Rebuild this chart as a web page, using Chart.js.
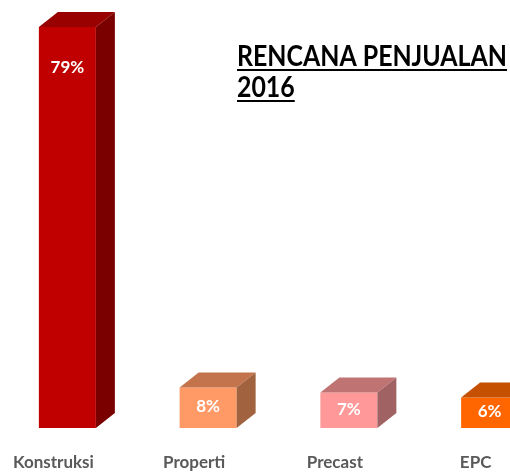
<!DOCTYPE html>
<html>
<head>
<meta charset="utf-8">
<script src="https://cdn.jsdelivr.net/npm/chart.js@4/dist/chart.umd.min.js"></script>
<style>
  html, body { margin: 0; padding: 0; background: #fff; overflow: hidden; }
  #wrap { position: absolute; left: -3px; top: 0; width: 563px; height: 472px; }
</style>
</head>
<body>
<div id="wrap"><canvas id="salesChart" width="563" height="472"></canvas></div>
<script>
// data
const categories = ["Konstruksi", "Properti", "Precast", "EPC"];
const shares = [79, 8, 7, 6];
const frontColors = ["#C00000", "#FF9966", "#FF9999", "#FF6600"];
const topColors = ["#990000", "#C3744D", "#C07373", "#C45000"];
const sideColors = ["#7A0000", "#A1623F", "#A06262", "#A04000"];
const titleLines = ["RENCANA PENJUALAN", "2016"];

// depth of the fake 3d box
const depthX = 19;
const depthY = 15;

const boxPlugin = {
  id: "box3d",
  afterDatasetsDraw(chart) {
    const ctx = chart.ctx;
    const meta = chart.getDatasetMeta(0);
    meta.data.forEach((bar, i) => {
      const half = bar.width / 2;
      const left = bar.x - half;
      const right = bar.x + half;
      const top = bar.y;
      const base = bar.base;
      ctx.save();
      // top face
      ctx.fillStyle = topColors[i];
      ctx.beginPath();
      ctx.moveTo(left, top);
      ctx.lineTo(right, top);
      ctx.lineTo(right + depthX, top - depthY);
      ctx.lineTo(left + depthX, top - depthY);
      ctx.closePath();
      ctx.fill();
      // side face
      ctx.fillStyle = sideColors[i];
      ctx.beginPath();
      ctx.moveTo(right, top);
      ctx.lineTo(right + depthX, top - depthY);
      ctx.lineTo(right + depthX, base - depthY);
      ctx.lineTo(right, base);
      ctx.closePath();
      ctx.fill();
      // value label
      const h = base - top;
      ctx.fillStyle = "#ffffff";
      ctx.font = 'bold 17px Lato';
      ctx.textAlign = "center";
      ctx.textBaseline = "middle";
      ctx.fillText(shares[i] + "%", bar.x, top + Math.min(40, h / 2 - 1));
      ctx.restore();
    });
  },
  afterDraw(chart) {
    // underlined heading
    const ctx = chart.ctx;
    ctx.save();
    ctx.fillStyle = "#000000";
    ctx.font = 'bold 29px Lato';
    ctx.textBaseline = "alphabetic";
    const x0 = 240;
    const fullW = 270;
    const w0 = ctx.measureText(titleLines[0]).width;
    const sx = fullW / w0;
    [66, 97].forEach((yb, k) => {
      const w = ctx.measureText(titleLines[k]).width * sx;
      ctx.save();
      ctx.translate(x0, yb);
      ctx.scale(sx, 1);
      ctx.fillText(titleLines[k], 0, 0);
      ctx.restore();
      ctx.fillRect(x0, yb + 3, w, 2);
    });
    ctx.restore();
  }
};

const ctx = document.getElementById("salesChart").getContext("2d");
new Chart(ctx, {
  type: "bar",
  data: {
    labels: categories,
    datasets: [
      {
        data: shares,
        backgroundColor: frontColors,
        borderWidth: 0,
        categoryPercentage: 1,
        barPercentage: 0.405
      }
    ]
  },
  options: {
    responsive: false,
    animation: false,
    devicePixelRatio: 1,
    layout: { padding: { top: 22, left: 0, right: 0, bottom: 0 } },
    plugins: {
      legend: { display: false },
      tooltip: { enabled: false },
      title: { display: false }
    },
    scales: {
      x: {
        grid: { display: false, drawTicks: false },
        border: { display: false },
        ticks: {
          color: "#595959",
          font: { family: "Lato", weight: "bold", size: 17 },
          padding: 24,
          labelOffset: -14,
          maxRotation: 0
        },
        afterFit(scale) {
          scale.height = 44;
        }
      },
      y: {
        display: false,
        min: 0,
        max: 80
      }
    }
  },
  plugins: [boxPlugin]
});
</script>
</body>
</html>
